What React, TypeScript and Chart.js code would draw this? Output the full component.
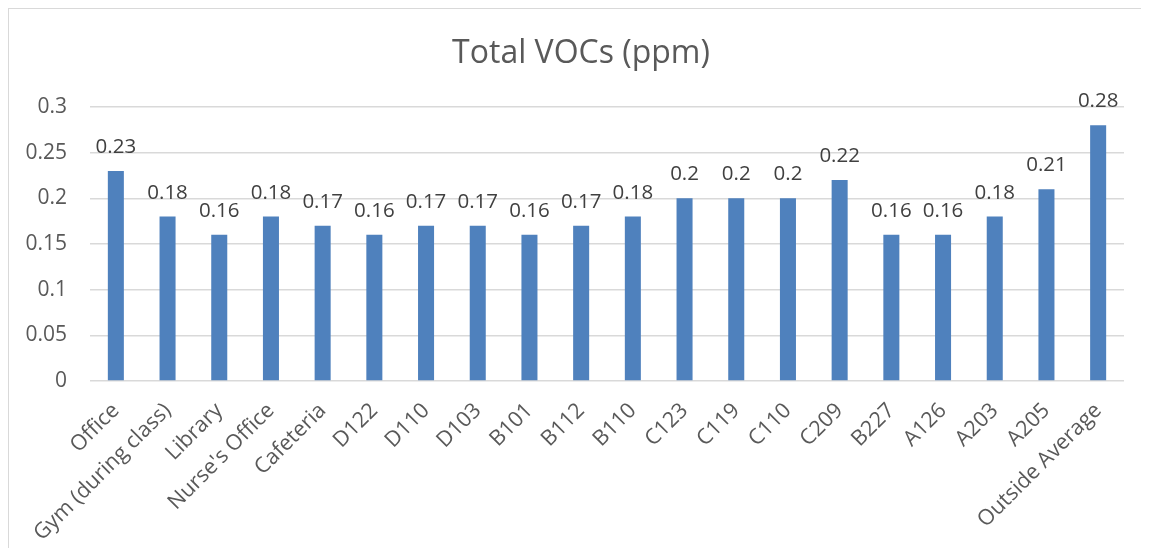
import React, { useEffect, useRef } from "react";
import { Chart, registerables } from "chart.js";

Chart.register(...registerables);

const categories = [
  "Office",
  "Gym (during class)",
  "Library",
  "Nurse's Office",
  "Cafeteria",
  "D122",
  "D110",
  "D103",
  "B101",
  "B112",
  "B110",
  "C123",
  "C119",
  "C110",
  "C209",
  "B227",
  "A126",
  "A203",
  "A205",
  "Outside Average",
];
const vocValues = [
  0.23, 0.18, 0.16, 0.18, 0.17, 0.16, 0.17, 0.17, 0.16, 0.17, 0.18, 0.2, 0.2,
  0.2, 0.22, 0.16, 0.16, 0.18, 0.21, 0.28,
];
const chartTitle = "Total VOCs (ppm)";

const FONT = "'Open Sans', sans-serif";

const borderPlugin = {
  id: "outerBorder",
  beforeDraw(chart: any) {
    const { ctx, width, height } = chart;
    ctx.save();
    ctx.fillStyle = "#ffffff";
    ctx.fillRect(0, 0, width, height);
    ctx.strokeStyle = "#d9d9d9";
    ctx.lineWidth = 1;
    ctx.strokeRect(0.5, 0.5, width + 10, height + 10);
    ctx.restore();
  },
};

const titlePlugin = {
  id: "customTitle",
  afterDraw(chart: any) {
    const { ctx } = chart;
    ctx.save();
    ctx.font = `32px ${FONT}`;
    ctx.fillStyle = "#595959";
    ctx.textAlign = "center";
    ctx.textBaseline = "middle";
    ctx.fillText(chartTitle, 573, 46);
    ctx.restore();
  },
};

const valueLabelPlugin = {
  id: "valueLabels",
  afterDatasetsDraw(chart: any) {
    const { ctx } = chart;
    const meta = chart.getDatasetMeta(0);
    const data = chart.data.datasets[0].data;
    ctx.save();
    ctx.font = `20.5px ${FONT}`;
    ctx.fillStyle = "#404040";
    ctx.textAlign = "center";
    ctx.textBaseline = "alphabetic";
    meta.data.forEach((bar: any, i: number) => {
      ctx.fillText(String(data[i]), bar.x, bar.y - 18);
    });
    ctx.restore();
  },
};

export default function App() {
  const canvasRef = useRef<HTMLCanvasElement>(null);

  useEffect(() => {
    if (!canvasRef.current) return;
    const chart = new Chart(canvasRef.current, {
      type: "bar",
      data: {
        labels: categories,
        datasets: [
          {
            data: vocValues,
            backgroundColor: "#4f81bd",
            categoryPercentage: 1,
            barPercentage: 0.31,
          },
        ],
      },
      options: {
        responsive: false,
        animation: false,
        layout: { padding: { left: 0, right: 17, top: 99, bottom: 0 } },
        plugins: {
          legend: { display: false },
          tooltip: { enabled: false },
          title: { display: false },
        },
        scales: {
          x: {
            grid: { display: false, drawTicks: false },
            border: { display: false },
            ticks: {
              color: "#595959",
              font: { family: FONT, size: 21.5 },
              minRotation: 45,
              maxRotation: 45,
              autoSkip: false,
              padding: 17,
            },
            afterFit(scale: any) {
              scale.height = 167;
            },
          },
          y: {
            min: 0,
            max: 0.3,
            grid: { color: "#d9d9d9", lineWidth: 1.5, drawTicks: false },
            border: { display: false },
            ticks: {
              stepSize: 0.05,
              color: "#595959",
              font: { family: FONT, size: 21 },
              padding: 23,
              callback: (v: any) => String(Math.round(Number(v) * 100) / 100),
            },
            afterFit(scale: any) {
              scale.width = 82;
            },
          },
        },
      },
      plugins: [borderPlugin, valueLabelPlugin, titlePlugin],
    });
    return () => chart.destroy();
  }, []);

  return (
    <div>
      <canvas
        ref={canvasRef}
        width={1133}
        height={540}
        style={{ display: "block", width: 1133, height: 540 }}
      />
    </div>
  );
}
